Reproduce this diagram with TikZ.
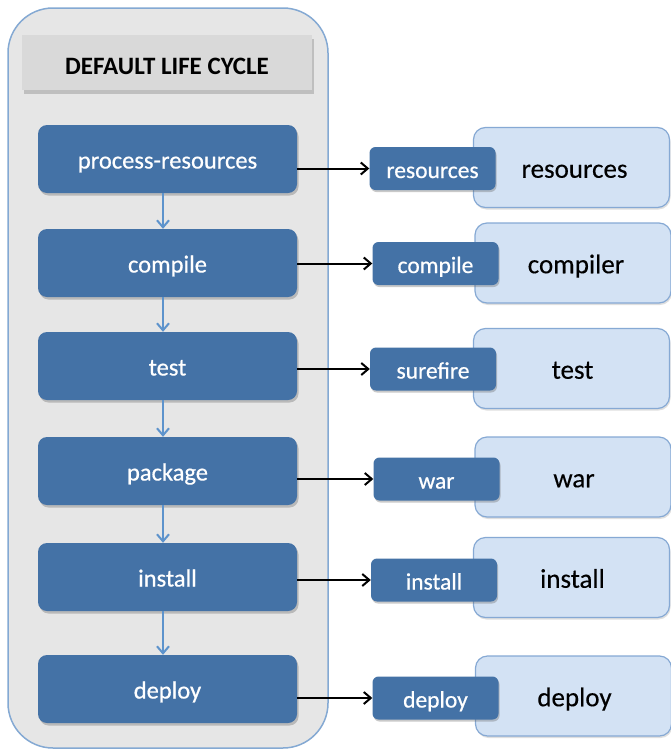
\documentclass[tikz,border=0pt]{standalone}
\usepackage{fontspec}
\setmainfont{Carlito}
\newfontfamily\whitefont[FakeBold=0.6]{Carlito}
\newfontfamily\toolfont[FakeBold=0.3]{Carlito}
\usetikzlibrary{arrows.meta,shadows,calc}
\definecolor{darkbox}{HTML}{4472A6}
\definecolor{lightfill}{HTML}{D3E2F4}
\definecolor{lightline}{HTML}{86A9D4}
\definecolor{contfill}{HTML}{E6E6E6}
\definecolor{contline}{HTML}{84A9D3}
\definecolor{headfill}{HTML}{D9D9D9}
\definecolor{vline}{HTML}{5D93CC}
\tikzset{
  phase/.style={draw=none, fill=darkbox, rounded corners=9pt, text=white,
    font=\whitefont\fontsize{24.5}{28}\selectfont, minimum width=259pt, minimum height=68pt,
    inner sep=0pt, text height=19pt, text depth=0pt,
    drop shadow={shadow xshift=1.5pt, shadow yshift=-2.5pt, opacity=0.35, fill=black!60}},
  plug/.style={draw=none, fill=darkbox, rounded corners=6pt, text=white,
    font=\whitefont\fontsize{23.5}{27}\selectfont, minimum width=126pt, minimum height=43pt,
    inner sep=0pt, text height=19pt, text depth=0pt,
    drop shadow={shadow xshift=1pt, shadow yshift=-2pt, opacity=0.35, fill=black!60}},
  tool/.style={draw=lightline, line width=1.2pt, fill=lightfill, rounded corners=12pt,
    minimum width=196pt, minimum height=80pt, inner sep=0pt,
    drop shadow={shadow xshift=1pt, shadow yshift=-2pt, opacity=0.25, fill=black!50}},
  tooltext/.style={font=\toolfont\fontsize{27}{31}\selectfont, text=black,
    inner sep=0pt, text height=20.5pt, text depth=0pt},
  flow/.style={draw=vline, line width=2pt, -{Straight Barb[length=7pt,width=12pt,line width=2pt]}},
  bind/.style={draw=black, line width=2pt, -{Straight Barb[length=7pt,width=12pt,line width=2pt]}},
}
\begin{document}
\begin{tikzpicture}[x=1pt,y=-1pt]
\useasboundingbox (0,0) rectangle (671,755);
\fill[white] (0,0) rectangle (671,755);
% container
\draw[contline, line width=1.5pt, fill=contfill, rounded corners=45pt] (8,8) rectangle (328,748);
% header
\fill[black!35, opacity=0.6] (24,39) rectangle (314,94);
\node[fill=headfill, minimum width=290pt, minimum height=55pt, inner sep=0pt,
  text height=23pt, text depth=0pt,
  font=\bfseries\fontsize{25}{28}\selectfont] (head) at (167,62.5) {DEFAULT LIFE CYCLE};
% phases
\node[phase] (p1) at (167.5,159) {process-resources};
\node[phase] (p2) at (167.5,263) {compile};
\node[phase] (p3) at (167.5,366) {test};
\node[phase] (p4) at (167.5,471) {package};
\node[phase] (p5) at (167.5,577) {install};
\node[phase] (p6) at (167.5,689) {deploy};
% vertical flow arrows
\foreach \a/\b in {p1/p2,p2/p3,p3/p4,p4/p5,p5/p6}{
  \draw[flow] ([xshift=-4.5pt]\a.south) -- ([xshift=-4.5pt]\b.north);
}
% tool boxes
\node[tool] (t1) at (571.5,167.5) {};
\node[tool] (t2) at (573,263) {};
\node[tool] (t3) at (571.5,368.5) {};
\node[tool] (t4) at (573,477) {};
\node[tool] (t5) at (571.5,577.5) {};
\node[tool] (t6) at (573.5,696) {};
\node[tooltext] (l1) at ([xshift=3pt]t1) {resources};
\node[tooltext] (l2) at ([xshift=3pt]t2) {compiler};
\node[tooltext] (l3) at ([xshift=1pt]t3) {test};
\node[tooltext] (l4) at ([xshift=1pt]t4) {war};
\node[tooltext] (l5) at ([xshift=1pt]t5) {install};
\node[tooltext] (l6) at ([xshift=1pt]t6) {deploy};
% plugin goal boxes
\node[plug] (s1) at (432.5,168.5) {resources};
\node[plug] (s2) at (435.5,263.5) {compile};
\node[plug] (s3) at (433,369) {surefire};
\node[plug] (s4) at (436.5,479) {war};
\node[plug] (s5) at (434,580) {install};
\node[plug] (s6) at (435.5,698) {deploy};
% bindings
\foreach \i in {1,...,6}{
  \draw[bind] (p\i.east |- s\i.west) -- (s\i.west);
}
\end{tikzpicture}
\end{document}
